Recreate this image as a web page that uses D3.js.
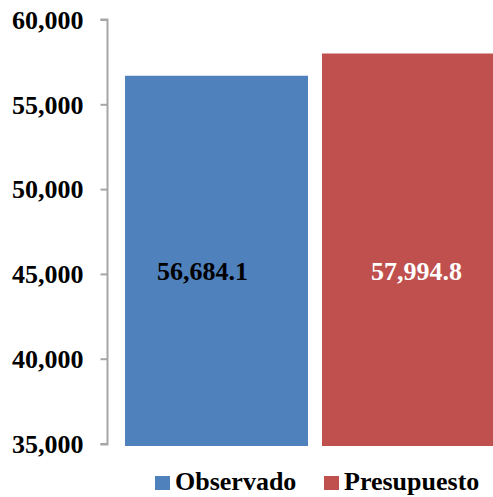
<!DOCTYPE html>
<html><head><meta charset="utf-8">
<script src="https://cdn.jsdelivr.net/npm/d3@7"></script>
<style>html,body{margin:0;padding:0;background:#fff;}
text{font-family:'Liberation Serif','Times New Roman',serif;font-weight:bold;}</style>
</head><body>
<svg id="chart" width="493" height="497"></svg>
<script>
const series = ["Observado", "Presupuesto"];
const values = [56684.1, 57994.8];
const labels = ["56,684.1", "57,994.8"];
const colors = ["#4F81BD", "#C0504D"];
const labelColors = ["#000000", "#FFFFFF"];
const yTicks = [35000, 40000, 45000, 50000, 55000, 60000];

const svg = d3.select("#chart");
const font = "Liberation Serif, Times New Roman, serif";

const y = d3.scaleLinear().domain([35000, 60000]).range([443.5, 19.5]);
const x = d3.scaleBand().domain(series).range([107, 523]).paddingInner(0.071).paddingOuter(0.0915);

const bottom = 446;
const g = svg.append("g");
g.selectAll("rect.bar").data(series).join("rect")
  .attr("class", "bar")
  .attr("x", d => x(d))
  .attr("width", x.bandwidth())
  .attr("y", (d, i) => y(values[i]))
  .attr("height", (d, i) => bottom - y(values[i]))
  .attr("fill", (d, i) => colors[i]);

// axis
const axis = d3.axisLeft(y).tickValues(yTicks).tickSize(7).tickFormat(d3.format(","));
const ax = svg.append("g").attr("transform", "translate(107.5,0)").call(axis)
  .attr("font-family", font).attr("font-size", 26).attr("font-weight", "bold");
ax.select(".domain").attr("stroke", "#A6A6A6").attr("stroke-width", 2)
  .attr("d", "M-7," + y(60000) + "H0V" + (y(35000)+1) + "H-7");
ax.selectAll(".tick line").attr("stroke", "#A6A6A6").attr("stroke-width", 2);
ax.selectAll(".tick text").attr("x", -24).attr("dy", "0.34em")
  .attr("font-family", font).attr("font-weight", "bold").attr("font-size", 26).attr("fill", "#000");

// data labels
const labelDx = [-14, 3];
svg.selectAll("text.vlabel").data(series).join("text")
  .attr("class", "vlabel")
  .attr("x", (d, i) => x(d) + x.bandwidth() / 2 + labelDx[i])
  .attr("y", y(45200))
  .attr("dy", "0.35em")
  .attr("text-anchor", "middle")
  .attr("font-family", font).attr("font-weight", "bold").attr("font-size", 26)
  .attr("fill", (d, i) => labelColors[i])
  .text((d, i) => labels[i]);

// legend
const legendX = [155, 324];
const lg = svg.selectAll("g.leg").data(series).join("g").attr("class", "leg")
  .attr("transform", (d, i) => `translate(${legendX[i]},476)`);
lg.append("rect").attr("width", 15).attr("height", 14).attr("fill", (d, i) => colors[i]);
lg.append("text").attr("x", 20).attr("y", 14)
  .attr("font-family", font).attr("font-weight", "bold").attr("font-size", 26)
  .attr("fill", "#000").text(d => d);
</script>
</body></html>
